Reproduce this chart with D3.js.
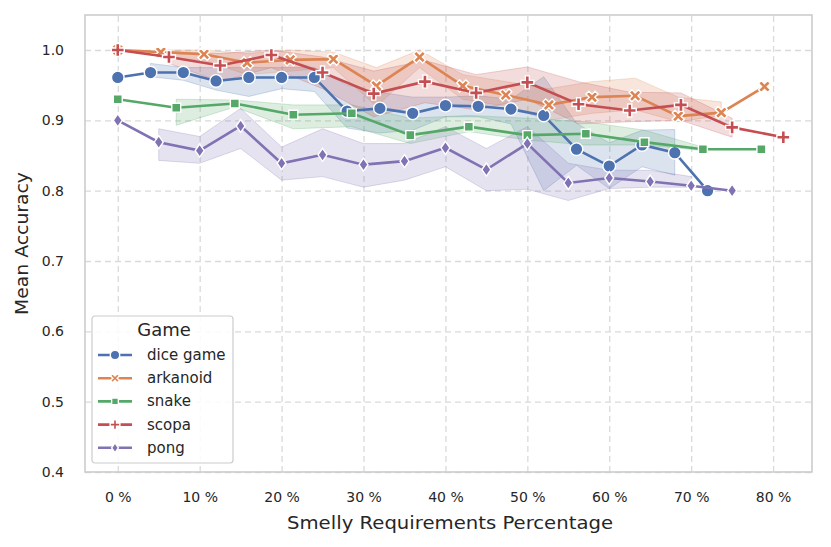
<!DOCTYPE html>
<html>
<head>
<meta charset="utf-8">
<script src="https://cdn.jsdelivr.net/npm/d3@7"></script>
<style>
  body { margin: 0; background: #fff; }
  text { font-family: 'DejaVu Sans', sans-serif; fill: #262626; }
</style>
</head>
<body>
<svg id="canvas" width="831" height="547"></svg>
<script>
// x in percent, mean accuracy, and the band (null where there is none)
let diceX = [0, 4, 8, 12, 16, 20, 24, 28, 32, 36, 40, 44, 48, 52, 56, 60, 64, 68, 72]
let diceY = [0.961, 0.968, 0.968, 0.956, 0.961, 0.961, 0.961, 0.913, 0.917, 0.910, 0.921, 0.920, 0.916, 0.907, 0.859, 0.835, 0.865, 0.854, 0.800]
let diceLo = [null, 0.962, 0.957, 0.943, 0.934, 0.945, 0.941, 0.889, 0.882, 0.886, 0.905, 0.905, 0.895, 0.800, 0.836, 0.803, 0.834, 0.822, null]
let diceHi = [null, 0.981, 0.975, 0.975, 0.975, 0.975, 0.975, 0.950, 0.940, 0.933, 0.933, 0.935, 0.930, 0.962, 0.896, 0.868, 0.886, 0.887, null]

let arkX = [0, 5.26, 10.53, 15.79, 21.05, 26.32, 31.58, 36.84, 42.11, 47.37, 52.63, 57.89, 63.16, 68.42, 73.68, 78.95]
let arkY = [1.0, 0.997, 0.994, 0.982, 0.986, 0.987, 0.949, 0.990, 0.949, 0.936, 0.922, 0.933, 0.935, 0.906, 0.911, 0.948]
let arkLo = [null, 0.990, 0.985, 0.965, 0.970, 0.975, 0.920, 0.975, 0.930, 0.920, 0.900, 0.910, 0.915, 0.898, 0.907, null]
let arkHi = [null, 1.0, 1.0, 0.995, 1.0, 0.997, 0.975, 1.0, 0.965, 0.955, 0.945, 0.955, 0.960, 0.933, 0.926, null]

let snakeX = [0, 7.14, 14.29, 21.43, 28.57, 35.71, 42.86, 50, 57.14, 64.29, 71.43, 78.57]
let snakeY = [0.930, 0.918, 0.924, 0.908, 0.910, 0.879, 0.891, 0.879, 0.881, 0.869, 0.859, 0.859]
let snakeLo = [null, 0.893, 0.919, 0.888, 0.891, 0.867, 0.884, 0.872, 0.865, 0.865, 0.857, null]
let snakeHi = [null, 0.930, 0.929, 0.922, 0.922, 0.903, 0.907, 0.903, 0.898, 0.886, 0.862, null]

let scopaX = [0, 6.25, 12.5, 18.75, 25, 31.25, 37.5, 43.75, 50, 56.25, 62.5, 68.75, 75, 81.25]
let scopaY = [1.0, 0.990, 0.978, 0.993, 0.968, 0.938, 0.955, 0.939, 0.954, 0.923, 0.914, 0.922, 0.890, 0.876]
let scopaLo = [null, 0.981, 0.955, 0.975, 0.945, 0.905, 0.925, 0.915, 0.930, 0.895, 0.898, 0.900, 0.876, null]
let scopaHi = [null, 0.998, 0.995, 1.0, 0.990, 0.970, 0.985, 0.965, 0.976, 0.955, 0.940, 0.939, 0.903, null]

let pongX = [0, 5, 10, 15, 20, 25, 30, 35, 40, 45, 50, 55, 60, 65, 70, 75]
let pongY = [0.900, 0.869, 0.857, 0.892, 0.839, 0.851, 0.837, 0.842, 0.861, 0.830, 0.867, 0.811, 0.818, 0.813, 0.807, 0.800]
let pongLo = [null, 0.843, 0.839, 0.860, 0.815, 0.820, 0.805, 0.815, 0.834, 0.800, 0.802, 0.786, 0.803, 0.805, 0.805, null]
let pongHi = [null, 0.888, 0.877, 0.917, 0.862, 0.888, 0.867, 0.867, 0.891, 0.860, 0.891, 0.839, 0.829, 0.829, 0.820, null]

let games = ['dice game', 'arkanoid', 'snake', 'scopa', 'pong']
let xTicks = [0, 10, 20, 30, 40, 50, 60, 70, 80]
let yTicks = [0.4, 0.5, 0.6, 0.7, 0.8, 0.9, 1.0]

let colors = ['#4c72b0', '#dd8452', '#55a868', '#c44e52', '#8172b3']
let shapes = ['circle', 'x', 'square', 'plus', 'diamond']

let series = [
    [diceX, diceY, diceLo, diceHi],
    [arkX, arkY, arkLo, arkHi],
    [snakeX, snakeY, snakeLo, snakeHi],
    [scopaX, scopaY, scopaLo, scopaHi],
    [pongX, pongY, pongLo, pongHi]
].map((s, i) => s[0].map((x, j) => ({ x: x, y: s[1][j], lo: s[2][j], hi: s[3][j] })))

let plotLeft = 85, plotTop = 15, plotRight = 812, plotBottom = 472

let canvas = d3.select('#canvas')

let xScale = d3.scaleLinear().domain([-4.0, 84.75]).range([plotLeft, plotRight])
let yScale = d3.scaleLinear().domain([0.4, 1.0498]).range([plotBottom, plotTop])

// grid
canvas.append('g')
      .attr('transform', 'translate(0,' + plotBottom + ')')
      .call(d3.axisBottom(xScale).tickValues(xTicks).tickSize(-(plotBottom - plotTop)).tickFormat(''))
      .call(g => g.select('.domain').remove())
      .selectAll('line')
      .attr('stroke', '#dadada').attr('stroke-width', 1.3).attr('stroke-dasharray', '6,4')

canvas.append('g')
      .attr('transform', 'translate(' + plotLeft + ',0)')
      .call(d3.axisLeft(yScale).tickValues(yTicks).tickSize(-(plotRight - plotLeft)).tickFormat(''))
      .call(g => g.select('.domain').remove())
      .selectAll('line')
      .attr('stroke', '#dadada').attr('stroke-width', 1.3).attr('stroke-dasharray', '6,4')

// tick labels
canvas.append('g')
      .attr('transform', 'translate(0,' + plotBottom + ')')
      .call(d3.axisBottom(xScale).tickValues(xTicks).tickSize(0).tickPadding(20).tickFormat(d => d + ' %'))
      .call(g => g.select('.domain').remove())
      .selectAll('text')
      .attr('font-size', 14).style('fill', '#262626')

canvas.append('g')
      .attr('transform', 'translate(' + plotLeft + ',0)')
      .call(d3.axisLeft(yScale).tickValues(yTicks).tickSize(0).tickPadding(21).tickFormat(d3.format('.1f')))
      .call(g => g.select('.domain').remove())
      .selectAll('text')
      .attr('font-size', 14).style('fill', '#262626')

// bands
let area = d3.area()
             .defined(d => d.lo != null)
             .x(d => xScale(d.x))
             .y0(d => yScale(d.lo))
             .y1(d => yScale(d.hi))

series.forEach((s, i) => {
    canvas.append('path')
          .attr('d', area(s))
          .attr('fill', colors[i])
          .attr('fill-opacity', 0.2)
          .attr('stroke', colors[i])
          .attr('stroke-opacity', 0.25)
          .attr('stroke-width', 1)
})

let line = d3.line().x(d => xScale(d.x)).y(d => yScale(d.y))

let markerPath = (shape) => {
    if (shape === 'circle') return d3.symbol(d3.symbolCircle, 125)()
    if (shape === 'square') return d3.symbol(d3.symbolSquare, 80)()
    if (shape === 'plus') return 'M-2,-6.5H2V-2H6.5V2H2V6.5H-2V2H-6.5V-2H-2Z'
    if (shape === 'x') return 'M-2,-6.5H2V-2H6.5V2H2V6.5H-2V2H-6.5V-2H-2Z'
    return 'M0,-6.5L4.5,0L0,6.5L-4.5,0Z'
}

let drawMarker = (g, shape, color, x, y, scale) => {
    g.append('path')
     .attr('d', markerPath(shape))
     .attr('transform', 'translate(' + x + ',' + y + ')' + (shape === 'x' ? ' rotate(45)' : '') + ' scale(' + scale + ')')
     .attr('fill', color)
     .attr('stroke', '#fff')
     .attr('stroke-width', 1.4 / scale)
}

series.forEach((s, i) => {
    canvas.append('path')
          .attr('d', line(s))
          .attr('fill', 'none')
          .attr('stroke', colors[i])
          .attr('stroke-width', 2.6)
    let g = canvas.append('g')
    s.forEach(d => drawMarker(g, shapes[i], colors[i], xScale(d.x), yScale(d.y), 1))
})

// frame
canvas.append('rect')
      .attr('x', plotLeft).attr('y', plotTop)
      .attr('width', plotRight - plotLeft).attr('height', plotBottom - plotTop)
      .attr('fill', 'none')
      .attr('stroke', '#cccccc')
      .attr('stroke-width', 1.6)

// axis labels
canvas.append('text')
      .attr('x', 450).attr('y', 529)
      .attr('text-anchor', 'middle')
      .attr('font-size', 18)
      .attr('textLength', 326).attr('lengthAdjust', 'spacingAndGlyphs')
      .text('Smelly Requirements Percentage')

canvas.append('text')
      .attr('transform', 'translate(28,' + ((plotTop + plotBottom) / 2) + ') rotate(-90)')
      .attr('text-anchor', 'middle')
      .attr('font-size', 18)
      .attr('textLength', 143).attr('lengthAdjust', 'spacingAndGlyphs')
      .text('Mean Accuracy')

// legend
let legend = canvas.append('g').attr('transform', 'translate(92,316)')
legend.append('rect')
      .attr('width', 141).attr('height', 147)
      .attr('rx', 3)
      .attr('fill', '#fff').attr('fill-opacity', 0.85)
      .attr('stroke', '#cccccc').attr('stroke-width', 1.2)
legend.append('text')
      .attr('x', 72).attr('y', 20)
      .attr('text-anchor', 'middle')
      .attr('font-size', 18)
      .text('Game')

games.forEach((name, i) => {
    let y = 39 + i * 23.2
    legend.append('line')
          .attr('x1', 6).attr('x2', 40)
          .attr('y1', y).attr('y2', y)
          .attr('stroke', colors[i])
          .attr('stroke-width', 2.6)
    drawMarker(legend, shapes[i], colors[i], 23, y, 0.75)
    legend.append('text')
          .attr('x', 55).attr('y', y + 5)
          .attr('font-size', 15)
          .text(name)
})
</script>
</body>
</html>
